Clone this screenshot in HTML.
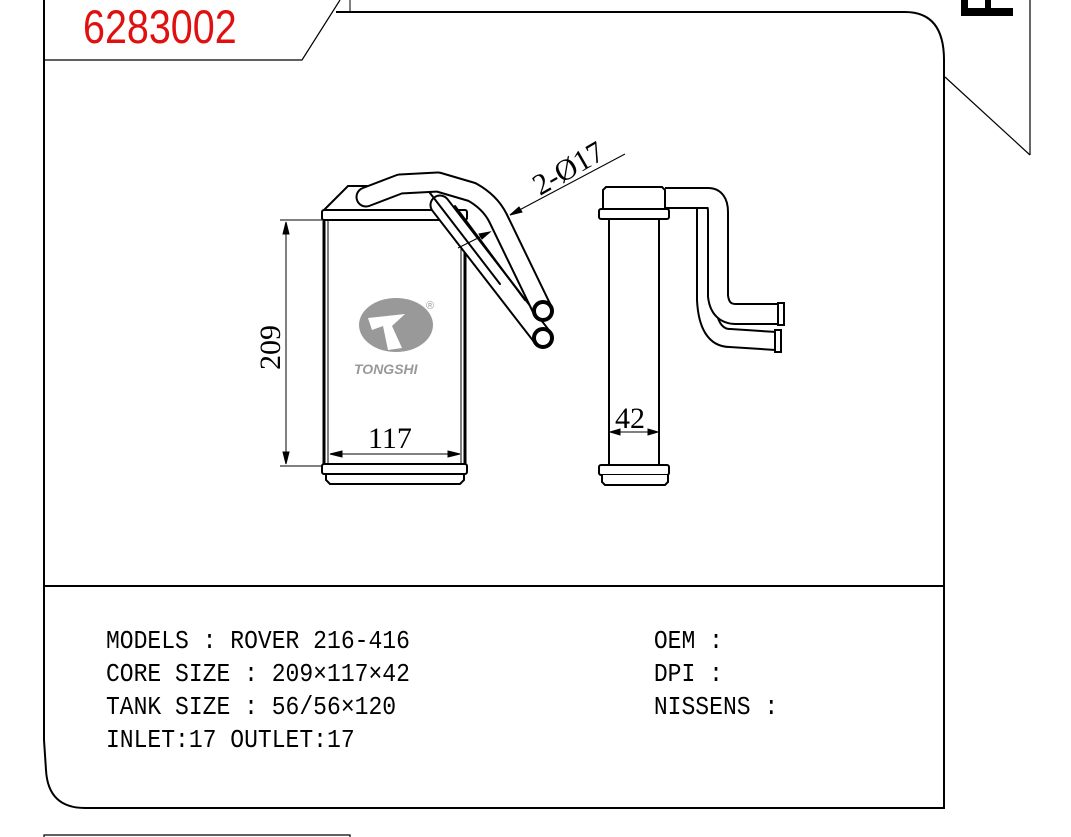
<!DOCTYPE html>
<html><head><meta charset="utf-8"><style>
html,body{margin:0;padding:0;background:#fff;}
svg{display:block;}
.t{font-family:"Liberation Mono",monospace;font-size:26px;fill:#000;}
.d{font-family:"Liberation Serif",serif;font-size:30px;fill:#000;}
</style></head><body>
<svg width="1071" height="837" viewBox="0 0 1071 837" xmlns="http://www.w3.org/2000/svg">
<path d="M44 0 V60 H302 L340 0" fill="none" stroke="#000" stroke-width="1.2"/>
<line x1="350" y1="0" x2="350" y2="12" stroke="#000" stroke-width="1"/>
<text x="0" y="0" font-family="Liberation Sans,sans-serif" font-size="47" fill="#e01010" transform="translate(83 43) scale(0.84 1)">6283002</text>
<path d="M336 12 H905 Q944 12 944 60 V808 H85 Q48 808 46 770 L44 740 V0" fill="none" stroke="#000" stroke-width="2"/>
<line x1="44" y1="586" x2="944" y2="586" stroke="#000" stroke-width="2"/>
<line x1="945" y1="77" x2="1030" y2="155" stroke="#000" stroke-width="1.2"/>
<line x1="1030" y1="0" x2="1030" y2="155" stroke="#000" stroke-width="1.2"/>
<rect x="961" y="8" width="52" height="8" fill="#000"/>
<rect x="961" y="0" width="7" height="16" fill="#000"/>
<rect x="985" y="0" width="6" height="9" fill="#000"/>
<path d="M44 837 V835 H350 V837" fill="none" stroke="#000" stroke-width="1.2"/>
<g fill="none" stroke="#000" stroke-width="2">
<path d="M324 210 L348 186 H372"/>
<rect x="322" y="210" width="145" height="10" rx="2"/>
<rect x="322" y="464" width="145" height="10" rx="2"/>
<path d="M326 474 V480 L330 484 H460 L464 480 V474"/>
<line x1="324" y1="220" x2="324" y2="464" stroke-width="3"/>
<line x1="465" y1="220" x2="465" y2="464" stroke-width="3"/>
<line x1="328" y1="220" x2="328" y2="464" stroke-width="1"/>
<line x1="461" y1="220" x2="461" y2="464" stroke-width="1"/>
</g>
<g fill="none" stroke-linecap="round" stroke-linejoin="round">
<path d="M440 205 L543 338" stroke="#000" stroke-width="21"/>
<path d="M440 205 L543 338" stroke="#fff" stroke-width="17"/>
<path d="M366 197 L400 184 L438 182 L472 192 Q490 202 498 218 L543 311" stroke="#000" stroke-width="21"/>
<path d="M366 197 L400 184 L438 182 L472 192 Q490 202 498 218 L543 311" stroke="#fff" stroke-width="17"/>
<path d="M430 193 L500 284" stroke="#000" stroke-width="2"/>
<path d="M455 206 L525 300" stroke="#000" stroke-width="2"/>
</g>
<circle cx="543" cy="311" r="9" fill="#fff" stroke="#000" stroke-width="4"/>
<circle cx="543" cy="338" r="9" fill="#fff" stroke="#000" stroke-width="4"/>
<g stroke="#000" stroke-width="1" fill="#000">
<line x1="280" y1="220" x2="322" y2="220"/>
<line x1="280" y1="466" x2="322" y2="466"/>
<line x1="286" y1="222" x2="286" y2="464"/>
<path d="M286 222 l-3 12 h6z"/><path d="M286 464 l-3 -12 h6z"/>
<line x1="330" y1="454" x2="460" y2="454"/>
<path d="M330 454 l12 -3 v6z"/><path d="M460 454 l-12 -3 v6z"/>
<line x1="510" y1="215" x2="625" y2="154"/>
<path d="M510 215 l9 -8 l3 5z"/>
<line x1="458" y1="248" x2="490" y2="232"/>
<path d="M490 232 l-8 7 l-3 -5z"/>
</g>
<text class="d" x="0" y="0" transform="translate(280 370) rotate(-90)">209</text>
<text class="d" x="368" y="448">117</text>
<text class="d" x="0" y="0" transform="translate(540 196) rotate(-30)">2-Ø17</text>
<ellipse cx="396" cy="325" rx="37" ry="27" fill="#999"/>
<path d="M368 318 L405 314 L392 326 L402 348 L388 350 L383 326 L372 330z" fill="#fff"/>
<text x="354" y="374" font-family="Liberation Sans,sans-serif" font-size="14" font-weight="bold" font-style="italic" fill="#999">TONGSHI</text>
<text x="426" y="309" font-family="Liberation Sans,sans-serif" font-size="11" fill="#999">®</text>
<g fill="none" stroke-linecap="butt" stroke-linejoin="round">
<path d="M706 208 V300 Q708 338 730 338 L776 341" stroke="#000" stroke-width="20"/>
<path d="M706 208 V300 Q708 338 730 338 L776 341" stroke="#fff" stroke-width="16"/>
<path d="M665 198 H708 Q718 198 718 212 V296 Q720 314 736 314 L780 314" stroke="#000" stroke-width="22"/>
<path d="M665 198 H708 Q718 198 718 212 V296 Q720 314 736 314 L780 314" stroke="#fff" stroke-width="18"/>
</g>
<g fill="#fff" stroke="#000" stroke-width="2">
<rect x="778" y="303" width="6" height="22"/>
<rect x="775" y="330" width="6" height="22"/>
<path d="M603 209 V190 L606 187 H662 L665 190 V209"/>
<rect x="599" y="209" width="70" height="10" rx="2"/>
<rect x="599" y="465" width="70" height="10" rx="2"/>
<path d="M602 475 V482 L605 485 H665 L668 482 V475"/>
<line x1="609" y1="219" x2="609" y2="465"/>
<line x1="659" y1="219" x2="659" y2="465"/>
</g>
<g stroke="#000" stroke-width="1" fill="#000">
<line x1="610" y1="432" x2="658" y2="432"/>
<path d="M610 432 l10 -3 v6z"/><path d="M658 432 l-10 -3 v6z"/>
</g>
<text class="d" x="615" y="428">42</text>
<g class="t" transform="scale(0.886 1)">
<text x="119.6" y="648">MODELS : ROVER 216-416</text>
<text x="119.6" y="681">CORE SIZE : 209×117×42</text>
<text x="119.6" y="714">TANK SIZE : 56/56×120</text>
<text x="119.6" y="747">INLET:17  OUTLET:17</text>
<text x="738" y="648">OEM :</text>
<text x="738" y="681">DPI :</text>
<text x="738" y="714">NISSENS :</text>
</g>
</svg>
</body></html>
